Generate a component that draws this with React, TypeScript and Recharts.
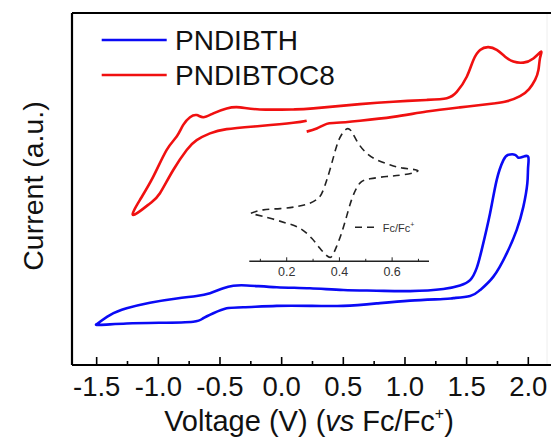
import React from 'react';
import { LineChart, Line, XAxis, YAxis, ReferenceLine } from 'recharts';

// PNDIBTH (blue) cyclic voltammogram: voltage (V) and current (a.u.)
const blueV = [-1.5, -1.392, -1.257, -1.068, -0.851, -0.689, -0.581, -0.473, -0.392, -0.283, -0.04, 0.23, 0.5, 0.771, 1.041, 1.311, 1.446, 1.528, 1.582, 1.622, 1.69, 1.744, 1.798, 1.838, 1.893, 1.919, 1.96, 2.0, 1.998, 1.992, 1.96, 1.906, 1.825, 1.717, 1.609, 1.528, 1.392, 1.311, 1.041, 0.771, 0.5, 0.23, -0.04, -0.311, -0.446, -0.554, -0.635, -0.717, -0.987, -1.257, -1.473, -1.5];
const blueI = [11.6, 14.2, 16.1, 17.7, 18.9, 19.6, 20.4, 21.8, 22.5, 22.6, 22.1, 21.8, 21.3, 21.1, 21.0, 21.6, 22.6, 24.1, 27.6, 32.7, 43.1, 52.6, 58.2, 59.7, 59.7, 58.9, 59.2, 59.1, 56.0, 51.6, 45.0, 38.4, 31.7, 25.1, 21.3, 19.6, 19.0, 18.75, 18.3, 17.5, 16.8, 16.8, 16.8, 16.4, 16.1, 14.7, 13.3, 12.3, 12.0, 11.8, 11.4, 11.6];

// PNDIBTOC8 (red)
const redV = [0.203, 0.284, 0.365, 0.446, 0.635, 0.905, 1.176, 1.446, 1.717, 1.825, 1.933, 2.006, 2.055, 2.082, 2.095, 2.103, 2.041, 1.96, 1.879, 1.812, 1.744, 1.676, 1.609, 1.554, 1.501, 1.42, 1.339, 1.176, 0.905, 0.635, 0.257, 0.094, -0.176, -0.338, -0.446, -0.554, -0.635, -0.689, -0.743, -0.798, -0.851, -0.932, -1.041, -1.149, -1.203, -1.068, -0.987, -0.879, -0.77, -0.689, -0.581, -0.446, -0.176, 0.094, 0.203];
const redI = [66.3, 67.2, 68.5, 68.8, 69.4, 70.5, 72.0, 73.2, 74.3, 74.9, 76.4, 78.4, 81.0, 83.8, 87.2, 89.0, 87.1, 85.9, 86.2, 87.6, 89.5, 90.3, 89.5, 86.6, 81.9, 77.6, 75.8, 75.3, 74.8, 74.1, 72.9, 72.6, 72.6, 73.2, 72.9, 71.5, 70.4, 71.0, 70.4, 68.2, 64.9, 61.1, 53.5, 46.9, 42.6, 45.9, 48.8, 55.4, 61.1, 63.9, 65.8, 67.0, 67.9, 68.8, 69.4];

// Inset: Fc/Fc+ reference
const fcV = [0.064, 0.111, 0.175, 0.238, 0.288, 0.32, 0.339, 0.364, 0.389, 0.408, 0.427, 0.446, 0.471, 0.503, 0.541, 0.591, 0.642, 0.698, 0.642, 0.579, 0.516, 0.484, 0.465, 0.446, 0.427, 0.408, 0.389, 0.37, 0.352, 0.326, 0.295, 0.25, 0.2, 0.137, 0.086, 0.064];
const fcI = [48, 51.3, 52.6, 54.6, 58, 63, 71.3, 91.3, 114.6, 126.3, 132, 129.6, 118, 108, 101.3, 96.3, 93, 90.3, 86.3, 84.6, 82.3, 79.6, 73, 61.3, 44.6, 28, 14.6, 4.6, 5.6, 13, 23, 33, 38, 43, 46.3, 48];

const mainMajorTicks = [-1.5, -1.0, -0.5, 0.0, 0.5, 1.0, 1.5, 2.0];
const mainMinorTicks = [-1.25, -0.75, -0.25, 0.25, 0.75, 1.25, 1.75];
const insetMajorTicks = [0.2, 0.4, 0.6];
const insetMinorTicks = [0.1, 0.3, 0.5, 0.7];

const seriesNames = ['PNDIBTH', 'PNDIBTOC8'];
const insetName = 'Fc/Fc';

const zip = (xs: number[], ys: number[]) => xs.map((x, i) => ({ x, y: ys[i] }));
const blueData = zip(blueV, blueI);
const redData = zip(redV, redI);
const fcData = zip(fcV, fcI);

const FONT = '"Liberation Sans", Arial, sans-serif';
const BLUE = '#0a0af5';
const RED = '#f01010';

const mainTicks = [...mainMajorTicks, ...mainMinorTicks].sort((a, b) => a - b);
const insetTicks = [...insetMajorTicks, ...insetMinorTicks].sort((a, b) => a - b);

const isIn = (arr: number[], v: number) => arr.some((a) => Math.abs(a - v) < 1e-9);

const MainTick = (props: any) => {
  const { x, y, payload } = props;
  const v = payload.value;
  const major = isIn(mainMajorTicks, v);
  return (
    <g>
      <line x1={x} x2={x} y1={y} y2={y - (major ? 8 : 4)} stroke="#000" strokeWidth={1.6} />
      {major && (
        <text x={x} y={y + 30.5} textAnchor="middle" fontSize={27.5} fontFamily={FONT} fill="#111">
          {v.toFixed(1)}
        </text>
      )}
    </g>
  );
};

const InsetTick = (props: any) => {
  const { x, y, payload } = props;
  const v = payload.value;
  const major = isIn(insetMajorTicks, v);
  return (
    <g>
      <line x1={x} x2={x} y1={y} y2={y - (major ? 4 : 2.5)} stroke="#222" strokeWidth={1} />
      {major && (
        <text x={x} y={y + 14.4} textAnchor="middle" fontSize={12.5} fontFamily={FONT} fill="#333">
          {v.toFixed(1)}
        </text>
      )}
    </g>
  );
};

const XTitle = () => (
  <text x={309} y={430.5} textAnchor="middle" fontSize={29} fontFamily={FONT} fill="#111">
    Voltage (V) (<tspan fontStyle="italic">vs</tspan> Fc/Fc
    <tspan fontSize={16} dy={-12}>+</tspan>
    <tspan dy={12}>)</tspan>
  </text>
);

const YTitle = () => (
  <text transform="translate(43,186) rotate(-90)" textAnchor="middle" fontSize={28.5} fontFamily={FONT} fill="#111">
    Current (a.u.)
  </text>
);

const MainLegend = () => (
  <g>
    <line x1={101.7} x2={166.7} y1={40} y2={40} stroke={BLUE} strokeWidth={2.6} />
    <text x={175} y={49.5} fontSize={28} fontFamily={FONT} fill="#111">{seriesNames[0]}</text>
    <line x1={101.7} x2={166.7} y1={75} y2={75} stroke={RED} strokeWidth={2.6} />
    <text x={175} y={84.5} fontSize={28} fontFamily={FONT} fill="#111">{seriesNames[1]}</text>
  </g>
);

const InsetLegend = () => (
  <g>
    <line x1={355} x2={378} y1={227.3} y2={227.3} stroke="#222" strokeWidth={1.6} strokeDasharray="7 5" />
    <text x={382.7} y={231.5} fontSize={11} fontFamily={FONT} fill="#333">
      {insetName}
      <tspan fontSize={7} dy={-5}>+</tspan>
    </text>
  </g>
);

export default function App() {
  return (
    <div style={{ position: 'absolute', left: 0, top: 0, width: 552, height: 437, overflow: 'hidden', background: '#fff' }}>
      <div style={{ position: 'absolute', left: 0, top: 0 }}>
        <LineChart width={560} height={437} margin={{ top: 12, right: 9, bottom: 0, left: 0 }}>
          <XAxis
            xAxisId="top"
            orientation="top"
            type="number"
            domain={[-1.7, 2.184]}
            height={1}
            tick={false}
            tickLine={false}
            axisLine={{ stroke: '#000', strokeWidth: 2.2 }}
            label={<MainLegend />}
          />
          <XAxis
            dataKey="x"
            type="number"
            domain={[-1.7, 2.184]}
            ticks={mainTicks}
            interval={0}
            height={72}
            tickSize={0}
            tickMargin={0}
            tickLine={false}
            tick={<MainTick />}
            axisLine={{ stroke: '#000', strokeWidth: 2.2 }}
            allowDataOverflow
            label={<XTitle />}
          />
          <YAxis
            type="number"
            domain={[0, 100]}
            width={72}
            tick={false}
            tickLine={false}
            axisLine={{ stroke: '#000', strokeWidth: 2.2 }}
            allowDataOverflow
            label={<YTitle />}
          />
          <ReferenceLine x={2.152} stroke="#eeeeee" strokeWidth={1} />
          <Line data={blueData} dataKey="y" type="natural" stroke={BLUE} strokeWidth={2.6} dot={false} isAnimationActive={false} name={seriesNames[0]} />
          <Line data={redData} dataKey="y" type="natural" stroke={RED} strokeWidth={2.6} dot={false} isAnimationActive={false} name={seriesNames[1]} />
        </LineChart>
      </div>
      <div style={{ position: 'absolute', left: 0, top: 0, pointerEvents: 'none' }}>
        <LineChart width={552} height={437} margin={{ top: 121, right: 123, bottom: 174.7, left: 249.3 }}>
          <XAxis
            dataKey="x"
            type="number"
            domain={[0.058, 0.74]}
            ticks={insetTicks}
            interval={0}
            height={1}
            tickSize={0}
            tickMargin={0}
            tickLine={false}
            tick={<InsetTick />}
            axisLine={{ stroke: '#222', strokeWidth: 1.4 }}
            allowDataOverflow
            label={<InsetLegend />}
          />
          <YAxis type="number" domain={[0, 140]} hide width={0} />
          <Line data={fcData} dataKey="y" type="natural" stroke="#222" strokeWidth={1.6} strokeDasharray="7 5" dot={false} isAnimationActive={false} name={insetName} />
        </LineChart>
      </div>
    </div>
  );
}
